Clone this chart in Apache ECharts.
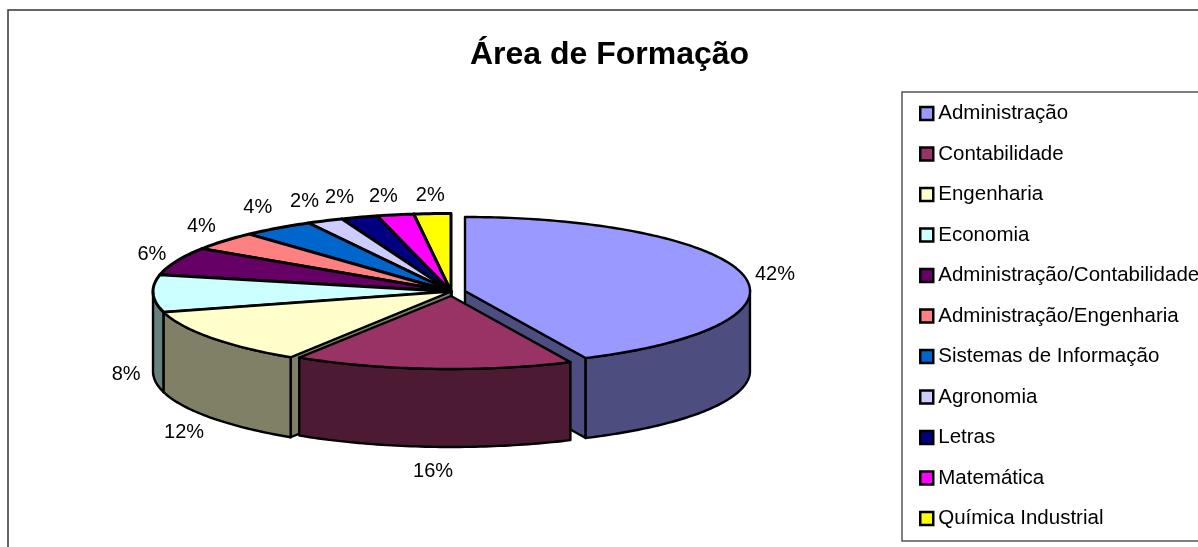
<!DOCTYPE html>
<html>
<head>
<meta charset="utf-8">
<style>html,body{margin:0;padding:0;background:#fff}#c{width:1198px;height:547px}</style>
<script src="https://cdn.jsdelivr.net/npm/echarts@6/dist/echarts.min.js"></script>
</head>
<body>
<div id="c"></div>
<script>
const categories = ['Administração','Contabilidade','Engenharia','Economia','Administração/Contabilidade','Administração/Engenharia','Sistemas de Informação','Agronomia','Letras','Matemática','Química Industrial'];
const values = [42,16,12,8,6,4,4,2,2,2,2];
const colors = ['#9999FF','#993366','#FFFFCC','#CCFFFF','#660066','#FF8080','#0066CC','#CCCCFF','#000080','#FF00FF','#FFFF00'];
const paintOrder = [10,9,8,7,6,5,4,3,2,0,1];

const total = values.reduce((a,b)=>a+b,0);
const FONT = '"Liberation Sans", Arial, sans-serif';
function labelNudge(i){
  return [[1,4],[4,5],[-1,3],[5,0],[5,1],[2,-2],[-1,-4],[-7,-1],[-10,-1],[-6,1],[0,2]][i];
}
function geom(i){
  if(i===0) return {cx:465,cy:291,a:285,b:74,d:80};
  if(i===1) return {cx:451,cy:296,a:282,b:73,d:78};
  return {cx:451,cy:291.5,a:298,b:78,d:80};
}
function warp(deg){const s=Math.sin(deg*Math.PI/360);return deg+4*s*s;}
function rim(g,deg,dy){const r=warp(deg)*Math.PI/180;return [g.cx+g.a*Math.sin(r),g.cy-g.b*Math.cos(r)+(dy||0)];}
function dark(hex){return '#'+[1,3,5].map(k=>Math.round(parseInt(hex.substr(k,2),16)/2).toString(16).padStart(2,'0')).join('');}
function sliceRender(i){
  return function(params,api){
    const v=api.value(0);
    let before=0;for(let k=0;k<i;k++)before+=values[k];
    const t1=before/total*360,t2=(before+v)/total*360;
    const g=geom(i),children=[];
    const stroke={stroke:'#000',lineWidth:2.4,lineJoin:'round'};
    const wallFill=dark(colors[i]);
    const apex=[g.cx,g.cy],apexLow=[g.cx,g.cy+g.d];
    const sinW=d=>Math.sin(warp(d)*Math.PI/180);
    if(sinW(t1)<-0.001){
      const p=rim(g,t1),q=rim(g,t1,g.d);
      children.push({type:'polygon',shape:{points:[apex,p,q,apexLow]},style:{fill:wallFill,...stroke}});
    }
    if(sinW(t2)>0.001){
      const p=rim(g,t2),q=rim(g,t2,g.d);
      children.push({type:'polygon',shape:{points:[apex,p,q,apexLow]},style:{fill:wallFill,...stroke}});
    }
    const wa=Math.max(t1,87),wb=Math.min(t2,268.5);
    if(wb>wa){
      const top=[],low=[];
      for(let d=wa;d<wb;d+=1){top.push(rim(g,d));low.unshift(rim(g,d,g.d));}
      top.push(rim(g,wb));low.unshift(rim(g,wb,g.d));
      children.push({type:'polygon',shape:{points:top.concat(low)},style:{fill:wallFill,...stroke}});
    }
    const pts=[apex];
    for(let d=t1;d<t2;d+=1)pts.push(rim(g,d));
    pts.push(rim(g,t2));
    children.push({type:'polygon',shape:{points:pts},style:{fill:colors[i],...stroke,lineWidth:i>2?3:2.4}});
    const mid=warp((t1+t2)/2)*Math.PI/180;
    const c=Math.cos(mid);
    const n=labelNudge(i);
    const lx=g.cx+(g.a+32)*Math.sin(mid)+n[0];
    const ly=g.cy-(g.b+20)*c+(c<0?g.d:0)+n[1];
    children.push({type:'text',style:{text:Math.round(v/total*100)+'%',x:lx,y:ly,align:'center',verticalAlign:'middle',fill:'#000',font:'20px '+FONT}});
    return {type:'group',children};
  };
}
const series=categories.map((name,i)=>({
  type:'custom',name,coordinateSystem:'none',
  z:2+paintOrder.indexOf(i),
  data:[[values[i]]],
  itemStyle:{color:colors[i]},
  renderItem:sliceRender(i),
  silent:true,animation:false
}));
const chart=echarts.init(document.getElementById('c'),null,{renderer:'canvas'});
chart.setOption({
  animation:false,
  backgroundColor:'#fff',
  title:{text:'Área de Formação',left:604.5,top:34,textAlign:'center',
    textStyle:{fontFamily:FONT,fontSize:32,fontWeight:'bold',color:'#000'}},
  graphic:[{type:'rect',z:0,silent:true,shape:{x:8,y:10,width:1300,height:700},style:{fill:'none',stroke:'#333',lineWidth:1.5}}],
  legend:{
    orient:'vertical',left:902,top:92,height:1000,width:400,
    data:categories,
    icon:'rect',itemWidth:13,itemHeight:13,itemGap:19.5,
    padding:[11,40,12,17],
    selectedMode:false,
    backgroundColor:'#fff',borderColor:'#555',borderWidth:1.5,
    itemStyle:{borderColor:'#000',borderWidth:2.5},
    textStyle:{fontFamily:FONT,fontSize:20.5,color:'#000',padding:[0,0,0,0]}
  },
  series
});
</script>
</body>
</html>
